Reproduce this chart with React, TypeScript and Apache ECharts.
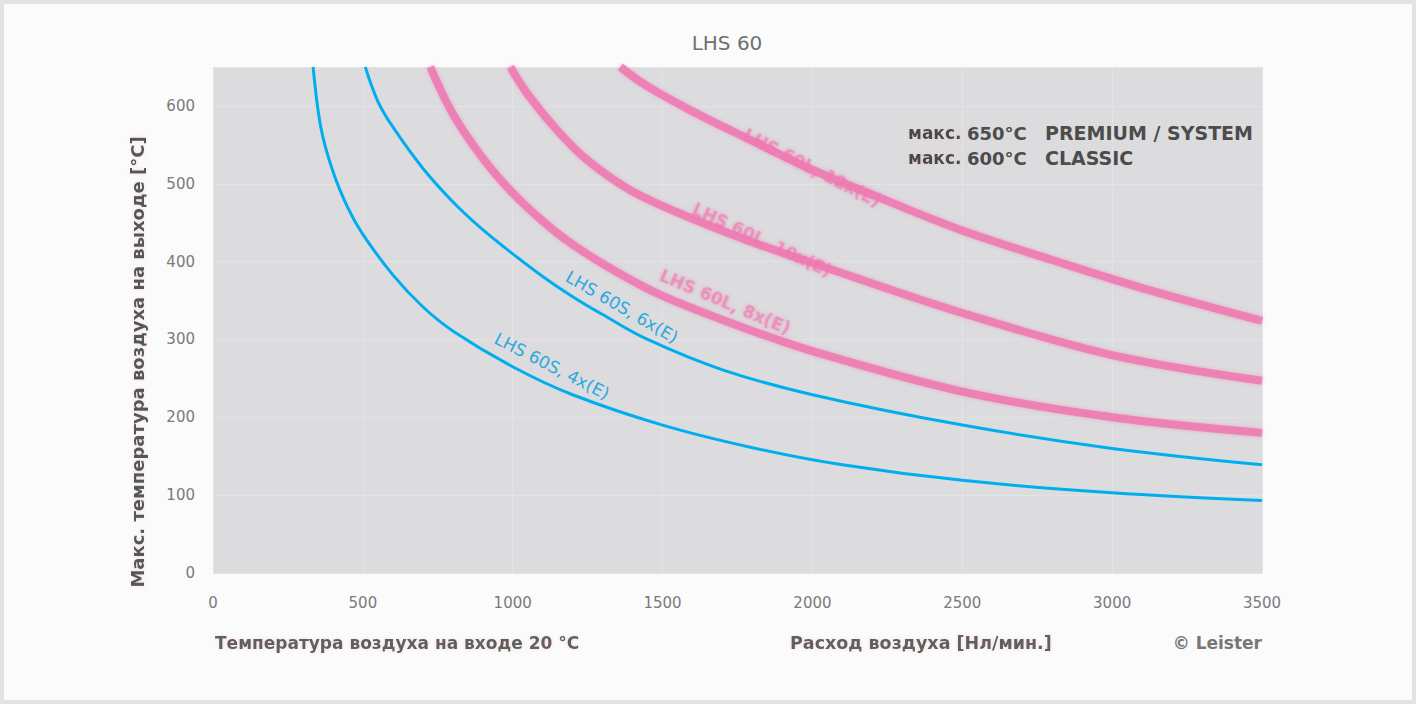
import React, { useEffect, useRef } from "react";
import * as echarts from "echarts";

const titleText = "LHS 60";
const yAxisTitle = "Макс. температура воздуха на выходе [°C]";
const inletText = "Температура воздуха на входе 20 °C";
const xAxisTitle = "Расход воздуха [Нл/мин.]";
const copyright = "© Leister";
const legendPrefix = ["макс.", "макс."];
const legendTemp = ["650°C", "600°C"];
const legendModel = ["PREMIUM / SYSTEM", "CLASSIC"];

// air flow [Nl/min] and max. outlet temperature [°C]
const blueLowQ = [334, 360, 400, 450, 500, 600, 700, 800, 1000, 1200, 1500, 1800, 2100, 2500, 3000, 3500];
const blueLowT = [650, 572, 516, 469, 435, 383, 342, 311, 265, 229, 190, 161, 139, 119, 103, 93];
const blueHighQ = [508, 550, 600, 700, 800, 900, 1000, 1100, 1200, 1300, 1450, 1700, 2000, 2500, 3000, 3500];
const blueHighT = [650, 606, 573, 520, 477, 441, 410, 381, 355, 332, 300, 261, 229, 190, 160, 139];
const pink1Q = [725, 800, 900, 1000, 1100, 1200, 1350, 1500, 1750, 2000, 2500, 3000, 3500];
const pink1T = [650, 590, 533, 488, 452, 422, 386, 356, 318, 285, 233, 200, 180];
const pink2Q = [992, 1050, 1150, 1250, 1400, 1600, 1800, 2100, 2500, 3000, 3500];
const pink2T = [650, 615, 568, 530, 490, 455, 425, 385, 334, 280, 247];
const pink3Q = [1359, 1450, 1600, 1800, 2000, 2250, 2500, 2800, 3100, 3500];
const pink3T = [650, 625, 593, 555, 518, 478, 440, 402, 366, 324];

const blueLowLabel = "LHS 60S, 4x(E)";
const blueHighLabel = "LHS 60S, 6x(E)";
const pink1Label = "LHS 60L, 8x(E)";
const pink2Label = "LHS 60L, 10x(E)";
const pink3Label = "LHS 60L, 12x(E)";

const xMin = 0, xMax = 3500, xStep = 500;
const yMin = 0, yMax = 650, yStep = 100;

const zip = (q: number[], t: number[]) => q.map((v, i) => [v, t[i]]);
const FONT = "'DejaVu Sans', 'Liberation Sans', Arial, sans-serif";

export default function App() {
  const ref = useRef<HTMLDivElement>(null);
  useEffect(() => {
    if (!ref.current) return;
    const chart = echarts.init(ref.current, null, { renderer: "svg" });
    const blue = "#00aeef";
    const pink = "rgba(238,120,176,0.85)";
    const blueSeries = (data: number[][]) => ({
      type: "line",
      data,
      smooth: 0.35,
      showSymbol: false,
      symbol: "none",
      lineStyle: { color: blue, width: 3 },
      z: 5,
    });
    const pinkSeries = (data: number[][]) => ({
      type: "line",
      data,
      smooth: 0.35,
      showSymbol: false,
      symbol: "none",
      lineStyle: { color: pink, width: 8, shadowBlur: 4, shadowColor: "rgba(238,120,176,0.6)" },
      z: 4,
    });
    const glow = { textShadowColor: "rgba(255,190,160,0.55)", textShadowBlur: 4 };
    const curveLabel = (text: string, x: number, y: number, deg: number, isPink: boolean) => ({
      type: "text",
      x,
      y,
      rotation: (-deg * Math.PI) / 180,
      z: 10,
      style: {
        text,
        align: "center",
        verticalAlign: "middle",
        fill: isPink ? "rgba(238,120,176,0.65)" : "#2aa9e0",
        font: isPink ? `bold 17px ${FONT}` : `17px ${FONT}`,
        textShadowColor: isPink ? "rgba(238,120,176,0.8)" : "transparent",
        textShadowBlur: isPink ? 5 : 0,
      },
    });
    chart.setOption({
      animation: false,
      backgroundColor: "transparent",
      grid: { left: 213, right: 154, top: 67, bottom: 131, show: true, backgroundColor: "#dcdcde", borderWidth: 0 },
      xAxis: {
        type: "value",
        min: xMin,
        max: xMax,
        interval: xStep,
        axisLine: { show: false },
        axisTick: { show: false },
        splitLine: { show: true, lineStyle: { color: "#e3e3e5", width: 1 } },
        axisLabel: { color: "#7a7a7a", fontSize: 15, margin: 22, fontFamily: FONT, formatter: (v: number) => String(v) },
      },
      yAxis: {
        type: "value",
        min: yMin,
        max: yMax,
        interval: yStep,
        axisLine: { show: false },
        axisTick: { show: false },
        splitLine: { show: true, lineStyle: { color: "#e3e3e5", width: 1 } },
        axisLabel: {
          color: "#7a7a7a",
          fontSize: 15,
          margin: 18,
          fontFamily: FONT,
          formatter: (v: number) => (v > 600 ? "" : String(v)),
        },
      },
      series: [
        pinkSeries(zip(pink1Q, pink1T)),
        pinkSeries(zip(pink2Q, pink2T)),
        pinkSeries(zip(pink3Q, pink3T)),
        blueSeries(zip(blueLowQ, blueLowT)),
        blueSeries(zip(blueHighQ, blueHighT)),
      ],
      graphic: [
        {
          type: "text",
          x: 727,
          y: 43,
          style: { text: titleText, align: "center", verticalAlign: "middle", fill: "#707070", font: `20px ${FONT}` },
        },
        {
          type: "text",
          x: 137,
          y: 362,
          rotation: Math.PI / 2,
          style: {
            text: yAxisTitle,
            align: "center",
            verticalAlign: "middle",
            fill: "#4e5862",
            font: `bold 18px ${FONT}`,
            ...glow,
          },
        },
        {
          type: "text",
          x: 215,
          y: 643,
          style: { text: inletText, align: "left", verticalAlign: "middle", fill: "#5a6168", font: `bold 17px ${FONT}`, ...glow },
        },
        {
          type: "text",
          x: 790,
          y: 643,
          style: { text: xAxisTitle, align: "left", verticalAlign: "middle", fill: "#5a6168", font: `bold 17.5px ${FONT}`, ...glow },
        },
        {
          type: "text",
          x: 1262,
          y: 643,
          style: { text: copyright, align: "right", verticalAlign: "middle", fill: "#777", font: `bold 17px ${FONT}` },
        },
        ...legendPrefix.flatMap((p, i) => [
          {
            type: "text",
            x: 908,
            y: 133 + i * 25,
            z: 10,
            style: { text: p, align: "left", verticalAlign: "middle", fill: "#3f4a55", font: `bold 17px ${FONT}`, ...glow },
          },
          {
            type: "text",
            x: 967,
            y: 133 + i * 25,
            z: 10,
            style: { text: legendTemp[i], align: "left", verticalAlign: "middle", fill: "#4c4c4c", font: `bold 18px ${FONT}` },
          },
          {
            type: "text",
            x: 1045,
            y: 133 + i * 25,
            z: 10,
            style: { text: legendModel[i], align: "left", verticalAlign: "middle", fill: "#4c4c4c", font: `bold 19px ${FONT}` },
          },
        ]),
        curveLabel(blueHighLabel, 622, 307, 30, false),
        curveLabel(blueLowLabel, 552, 366, 27, false),
        curveLabel(pink3Label, 812, 168, 27, true),
        curveLabel(pink2Label, 762, 240, 25, true),
        curveLabel(pink1Label, 725, 302, 23, true),
      ],
    });
    return () => chart.dispose();
  }, []);
  return (
    <div
      style={{
        position: "fixed",
        left: 0,
        top: 0,
        width: 1416,
        height: 704,
        boxSizing: "border-box",
        border: "4px solid #e2e3e5",
        background: "#fbfbfc",
      }}
    >
      <div ref={ref} style={{ position: "absolute", left: -4, top: -4, width: 1416, height: 704 }} />
    </div>
  );
}
